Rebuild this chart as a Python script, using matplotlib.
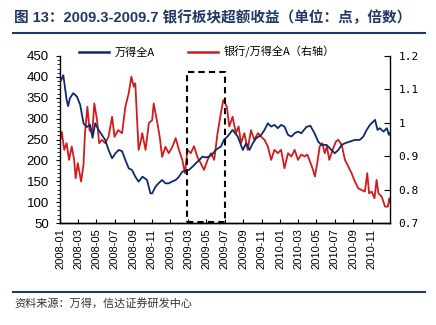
import matplotlib
matplotlib.use('Agg')
import matplotlib.pyplot as plt
import matplotlib.dates as mdates
from matplotlib.patches import Rectangle
from matplotlib.lines import Line2D
import pandas as pd

plt.rcParams['font.family'] = ['Liberation Sans', 'Noto Sans CJK SC', 'DejaVu Sans']

# 万得全A (左轴, 点)
wind_dates = [
    "2008-01-02", "2008-01-12", "2008-01-23", "2008-01-28", "2008-02-03", "2008-02-14",
    "2008-02-26", "2008-03-08", "2008-03-19", "2008-03-30", "2008-04-10", "2008-04-18",
    "2008-04-27", "2008-05-08", "2008-05-19", "2008-05-30", "2008-06-10", "2008-06-22",
    "2008-07-03", "2008-07-14", "2008-07-25", "2008-08-05", "2008-08-16", "2008-08-27",
    "2008-09-07", "2008-09-18", "2008-10-01", "2008-10-16", "2008-10-27", "2008-11-02",
    "2008-11-13", "2008-11-23", "2008-12-05", "2008-12-16", "2008-12-27", "2009-01-09",
    "2009-01-19", "2009-01-29", "2009-02-10", "2009-02-21", "2009-03-04", "2009-03-16",
    "2009-03-27", "2009-04-06", "2009-04-18", "2009-04-29", "2009-05-10", "2009-05-21",
    "2009-06-01", "2009-06-11", "2009-06-18", "2009-06-29", "2009-07-10", "2009-07-27",
    "2009-08-13", "2009-08-30", "2009-09-10", "2009-09-21", "2009-10-02", "2009-10-13",
    "2009-10-30", "2009-11-10", "2009-11-21", "2009-12-02", "2009-12-13", "2009-12-24",
    "2010-01-04", "2010-01-15", "2010-01-27", "2010-02-07", "2010-02-18", "2010-03-01",
    "2010-03-12", "2010-03-29", "2010-04-11", "2010-04-25", "2010-05-07", "2010-05-18",
    "2010-06-04", "2010-06-20", "2010-07-01", "2010-07-13", "2010-07-24", "2010-08-04",
    "2010-08-20", "2010-09-06", "2010-09-22", "2010-10-04", "2010-10-15", "2010-10-26",
    "2010-11-06", "2010-11-12", "2010-11-20", "2010-11-28", "2010-12-10", "2010-12-21",
    "2010-12-28", "2010-12-31",
]
wind_values = [
    388, 404, 345, 330, 349, 361,
    353, 333, 289, 280, 285, 254,
    289, 273, 261, 249, 225, 205,
    217, 225, 222, 201, 181, 177,
    161, 149, 161, 153, 121, 121,
    137, 145, 153, 145, 145, 150,
    153, 160, 173, 175, 177, 185,
    193, 200, 209, 207, 209, 215,
    225, 230, 233, 250, 257, 273,
    257, 225, 241, 225, 241, 253,
    261, 273, 289, 281, 285, 277,
    285, 281, 261, 257, 265, 269,
    265, 280, 283, 265, 245, 237,
    237, 225, 217, 225, 237, 241,
    245, 249, 249, 257, 273, 285,
    293, 297, 273, 277, 269, 277,
    261, 265,
]

# 银行/万得全A (右轴, 倍数)
ratio_dates = [
    "2008-01-02", "2008-01-07", "2008-01-15", "2008-01-23", "2008-01-31", "2008-02-09",
    "2008-02-17", "2008-02-22", "2008-02-29", "2008-03-11", "2008-03-19", "2008-03-24",
    "2008-04-01", "2008-04-08", "2008-04-17", "2008-04-24", "2008-05-03", "2008-05-10",
    "2008-05-19", "2008-05-30", "2008-06-10", "2008-06-22", "2008-06-30", "2008-07-12",
    "2008-07-25", "2008-08-05", "2008-08-16", "2008-08-25", "2008-09-02", "2008-09-07",
    "2008-09-13", "2008-09-18", "2008-09-24", "2008-09-30", "2008-10-11", "2008-10-22",
    "2008-11-02", "2008-11-07", "2008-11-19", "2008-11-27", "2008-12-05", "2008-12-16",
    "2008-12-27", "2009-01-08", "2009-01-19", "2009-01-30", "2009-02-10", "2009-02-19",
    "2009-02-27", "2009-03-10", "2009-03-21", "2009-04-01", "2009-04-12", "2009-04-23",
    "2009-05-05", "2009-05-16", "2009-05-27", "2009-06-07", "2009-06-18", "2009-06-26",
    "2009-07-08", "2009-07-16", "2009-07-27", "2009-08-07", "2009-08-16", "2009-08-24",
    "2009-09-04", "2009-09-15", "2009-09-26", "2009-10-07", "2009-10-19", "2009-10-30",
    "2009-11-10", "2009-11-21", "2009-12-02", "2009-12-13", "2009-12-24", "2010-01-04",
    "2010-01-15", "2010-01-27", "2010-02-07", "2010-02-18", "2010-03-01", "2010-03-12",
    "2010-03-23", "2010-04-01", "2010-04-12", "2010-04-20", "2010-04-26", "2010-05-04",
    "2010-05-12", "2010-05-21", "2010-05-29", "2010-06-05", "2010-06-13", "2010-06-24",
    "2010-07-05", "2010-07-13", "2010-07-24", "2010-08-04", "2010-08-15", "2010-08-26",
    "2010-09-06", "2010-09-17", "2010-09-28", "2010-10-09", "2010-10-17", "2010-10-23",
    "2010-11-01", "2010-11-10", "2010-11-17", "2010-11-23", "2010-12-04", "2010-12-15",
    "2010-12-24", "2010-12-30", "2010-12-31",
]
ratio_values = [
    0.949, 0.973, 0.919, 0.939, 0.889, 0.929,
    0.889, 0.834, 0.879, 0.824, 0.874, 0.969,
    1.048, 0.978, 0.969, 1.058, 1.008, 0.939,
    0.949, 0.939, 0.958, 1.018, 0.958, 0.978,
    0.969, 1.048, 1.088, 1.138, 1.108, 1.118,
    1.008, 0.919, 0.940, 0.969, 0.919, 0.999,
    1.008, 1.058, 1.000, 0.958, 0.898, 0.928,
    0.909, 0.928, 0.954, 0.919, 0.889, 0.849,
    0.919, 0.909, 0.930, 0.898, 0.879, 0.859,
    0.889, 0.909, 0.889, 0.969, 1.028, 1.068,
    1.048, 0.989, 1.018, 0.969, 0.989, 0.939,
    0.969, 0.919, 0.978, 0.949, 0.969, 0.958,
    0.949, 0.929, 0.889, 0.919, 0.909, 0.919,
    0.864, 0.909, 0.899, 0.919, 0.889, 0.905,
    0.899, 0.905, 0.879, 0.859, 0.839, 0.879,
    0.929, 0.939, 0.909, 0.929, 0.889, 0.919,
    0.944, 0.949, 0.934, 0.889, 0.869, 0.849,
    0.824, 0.804, 0.799, 0.794, 0.849, 0.789,
    0.794, 0.774, 0.829, 0.789, 0.779, 0.749,
    0.749, 0.774, 0.764,
]

# 2009.3-2009.7 区间框
box_start, box_end = "2009-02-25", "2009-07-01"
box_low, box_high = 52, 412

left_ticks = [50, 100, 150, 200, 250, 300, 350, 400, 450]
right_ticks = [0.7, 0.8, 0.9, 1.0, 1.1, 1.2]
right_labels = ["0.7", "0.8", "0.9", "1", "1.1", "1.2"]

navy = "#0d2b6b"
red = "#d01c1f"
title_color = "#1f3864"

fig = plt.figure(figsize=(4.36, 3.25), dpi=100)
ax = fig.add_axes([60 / 436, 1 - 223 / 325, 330 / 436, 167 / 325])
ax2 = ax.twinx()

wd = pd.to_datetime(wind_dates)
rd = pd.to_datetime(ratio_dates)
ax.plot(wd, wind_values, color=navy, lw=1.3, zorder=3)
ax2.plot(rd, ratio_values, color=red, lw=1.3)
ax.set_zorder(ax2.get_zorder() + 1)
ax.patch.set_visible(False)

bs, be = mdates.date2num(pd.Timestamp(box_start)), mdates.date2num(pd.Timestamp(box_end))
ax.add_patch(Rectangle((bs, box_low), be - bs, box_high - box_low, fill=False,
                       edgecolor="black", lw=1.5, linestyle=(0, (3, 2)), zorder=4))

ax.set_xlim(pd.Timestamp("2008-01-01"), pd.Timestamp("2010-12-31 12:00"))
ax.set_ylim(50, 450)
ax2.set_ylim(0.7, 1.2)

ax.set_yticks(left_ticks)
ax.set_yticks(range(50, 451, 10), minor=True)
ax.tick_params(axis="y", which="major", direction="out", length=3, labelsize=9.5, pad=5)
ax.tick_params(axis="y", which="minor", direction="out", length=2)
ax2.set_yticks(right_ticks)
ax2.set_yticklabels(right_labels, family="DejaVu Sans Mono", fontsize=8)
ax2.tick_params(axis="y", direction="in", length=4, pad=6)

ax.xaxis.set_major_locator(mdates.MonthLocator(bymonth=[1, 3, 5, 7, 9, 11]))
ax.xaxis.set_major_formatter(mdates.DateFormatter("%Y-%m"))
ax.tick_params(axis="x", direction="in", length=3, labelsize=8, rotation=90, pad=4)
ax2.tick_params(axis="x", length=0)

for a in (ax, ax2):
    a.spines["top"].set_visible(False)
    for s in ("left", "right", "bottom"):
        a.spines[s].set_linewidth(1.0)
ax.spines["right"].set_visible(False)
ax2.spines["left"].set_visible(False)

handles = [Line2D([], [], color=navy, lw=1.8), Line2D([], [], color=red, lw=1.8)]
fig.legend(handles, ["万得全A", "银行/万得全A（右轴）"], loc="center",
           bbox_to_anchor=(207 / 436, 1 - 52 / 325), ncol=2, frameon=False,
           prop={"family": ["Noto Sans CJK SC"], "size": 8},
           handlelength=2.7, handletextpad=0.5, columnspacing=3.0)

fig.text(14 / 436, 1 - 18 / 325, "图 13：2009.3-2009.7 银行板块超额收益（单位：点，倍数）",
         fontsize=10.5, fontweight="bold", color=title_color, va="center", ha="left")
fig.add_artist(Line2D([13 / 436, 425 / 436], [1 - 33 / 325] * 2, color=title_color, lw=1.5))
fig.add_artist(Line2D([13 / 436, 425 / 436], [1 - 291.5 / 325] * 2, color=title_color, lw=1.5))
fig.text(14 / 436, 1 - 303 / 325, "资料来源：万得，信达证券研发中心",
         fontsize=8, color="#333333", va="center", ha="left", style="italic",
         family=["Noto Sans CJK SC"])

fig.savefig("out.png", dpi=100)
